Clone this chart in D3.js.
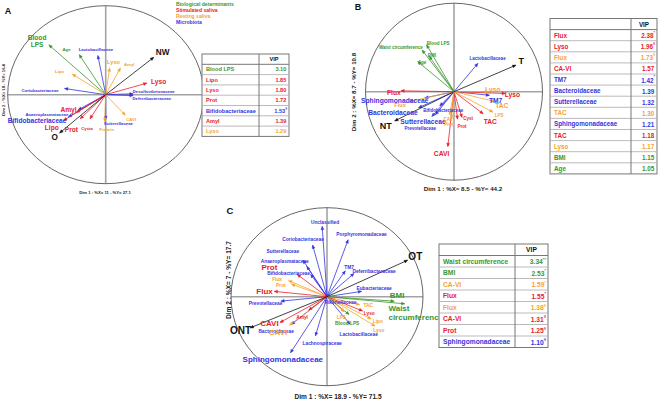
<!DOCTYPE html>
<html><head><meta charset="utf-8">
<script src="https://cdn.jsdelivr.net/npm/d3@7/dist/d3.min.js"></script>
<style>
body{margin:0;background:#fff}
svg{display:block}
text{font-family:"Liberation Sans",Arial,Helvetica,sans-serif;font-weight:bold}
</style>
</head><body>
<svg id="chart" width="660" height="400"></svg>
<script>
// ---------------- DATA ----------------
// Panel A : correlation circle loadings (Dim1, Dim2) and label anchors (in loading units)
const A_names  = ["Blood\nLPS","Age","Lactobacillaceae","Coriobacteriaceae","Desulfovibrionaceae","Deferribacteraceae","Sutterellaceae","Anaeroplasmataceae","Bifidobacteriaceae","Lyso","Amyl","Lipo","Prot","Cysta","Lyso","Amyl","Lipo","CAVI","Protein","NW","O"];
const A_groups = ["bio","bio","micro","micro","micro","micro","micro","micro","micro","stim","stim","stim","stim","stim","rest","rest","rest","rest","rest","pole","pole"];
const A_x      = [-0.58,-0.27,-0.08,-0.42,0.28,0.28,0.00,-0.28,-0.38,0.42,-0.30,-0.43,-0.26,-0.16,0.04,0.15,-0.34,0.20,-0.01,0.49,-0.47];
const A_y      = [0.56,0.45,0.44,0.07,0.01,-0.01,-0.28,-0.17,-0.25,0.13,-0.20,-0.29,-0.27,-0.27,0.30,0.30,0.23,-0.23,-0.30,0.42,-0.43];
const A_labX   = [-0.70,-0.40,-0.10,-0.67,0.49,0.47,0.13,-0.60,-0.70,0.54,-0.38,-0.55,-0.35,-0.19,0.08,0.24,-0.47,0.26,0.01,0.58,-0.52];
const A_labY   = [0.61,0.51,0.51,0.05,0.045,-0.04,-0.32,-0.22,-0.28,0.15,-0.16,-0.36,-0.39,-0.37,0.37,0.35,0.27,-0.27,-0.38,0.48,-0.47];
const A_tier   = [2,0,0,0,0,0,0,0,2,2,2,2,2,0,1,0,0,0,0,3,3];
const A_vipNames  = ["Blood LPS","Lipo","Lyso","Prot","Bifidobacteriaceae","Amyl","Lyso"];
const A_vipGroups = ["bio","stim","stim","stim","micro","stim","rest"];
const A_vipValues = [3.10,1.85,1.80,1.72,1.53,1.39,1.29];
const A_vipMarks  = ["","","","","§","",""];
const A_axisX = "Dim 1 : %X= 11 - %Y= 27.1";
const A_axisY = "Dim 2 : %X= 10 - %Y= 16.4";

// Panel B
const B_names  = ["Waist circumference","Blood LPS","BMI","Age","Lactobacillaceae","Sphingomonadaceae","Bacteroidaceae","Sutterellaceae","Prevotellaceae","Bifidobacteriaceae","TM7","Flux","Lyso","TAC","Cyst","Prot","CAVI","Lyso","TAC","LPS","Flux","CAVI","Prot","T","NT"];
const B_groups = ["bio","bio","bio","bio","micro","micro","micro","micro","micro","micro","micro","stim","stim","stim","stim","stim","stim","rest","rest","rest","rest","rest","rest","pole","pole"];
const B_x      = [-0.36,-0.31,-0.28,-0.41,0.27,-0.33,-0.40,-0.21,-0.25,-0.16,0.40,-0.60,0.58,0.33,0.09,0.04,-0.07,0.39,0.46,0.44,-0.50,-0.05,-0.03,0.70,-0.67];
const B_y      = [0.47,0.53,0.40,0.34,0.32,-0.07,-0.18,-0.26,-0.28,-0.16,-0.04,0.01,-0.02,-0.25,-0.29,-0.31,-0.62,0.00,-0.11,-0.23,-0.11,-0.26,-0.30,0.30,-0.33];
const B_labX   = [-0.60,-0.18,-0.25,-0.36,0.38,-0.67,-0.69,-0.35,-0.38,-0.12,0.47,-0.68,0.66,0.41,0.16,0.09,-0.14,0.44,0.54,0.51,-0.61,-0.06,-0.06,0.76,-0.77];
const B_labY   = [0.51,0.55,0.41,0.34,0.38,-0.09,-0.23,-0.33,-0.41,-0.21,-0.09,0.00,-0.03,-0.33,-0.30,-0.39,-0.69,0.03,-0.15,-0.26,-0.15,-0.31,-0.36,0.35,-0.39];
const B_tier   = [0,0,0,0,0,2,2,2,0,0,2,2,2,2,0,0,2,2,2,0,1,0,0,3,3];
const B_vipNames  = ["Flux","Lyso","Flux","CA-VI","TM7","Bacteroidaceae","Sutterellaceae","TAC","Sphingomonadaceae","TAC","Lyso","BMI","Age"];
const B_vipGroups = ["stim","stim","rest","stim","micro","micro","micro","rest","micro","stim","rest","bio","bio"];
const B_vipValues = [2.38,1.96,1.73,1.57,1.42,1.39,1.32,1.30,1.21,1.18,1.17,1.15,1.05];
const B_vipMarks  = ["*","§","§","","*","","","","","","","",""];
const B_axisX = "Dim 1 : %X= 8.5 - %Y= 44.2";
const B_axisY = "Dim 2 : %X= 8.7 - %Y= 10.8";

// Panel C
const C_names  = ["Unclassified","Coriobacteriaceae","Porphyromonadaceae","Sutterellaceae","Anaeroplasmataceae","Bifidobacteriaceae","TM7","Deferribacteraceae","Eubacteriaceae","Prevotellaceae","Rikenellaceae","Lactobacillaceae","Bacteroidaceae","Lachnospiraceae","Sphingomonadaceae","BMI","Waist\ncircumference","Blood LPS","LPS","TAC","Lipo","Lyso","Flux","Prot","CAVI","Prot","Flux","CAVI","Amyl","Lyso","OT","ONT"];
const C_groups = ["micro","micro","micro","micro","micro","micro","micro","micro","micro","micro","micro","micro","micro","micro","micro","bio","bio","bio","rest","rest","rest","rest","rest","rest","rest","stim","stim","stim","stim","stim","pole","pole"];
const C_x      = [-0.05,-0.15,0.22,-0.25,-0.21,-0.17,0.19,0.28,0.36,-0.48,0.07,0.24,-0.37,-0.12,-0.38,0.70,0.81,0.23,0.18,0.34,0.46,0.50,-0.40,-0.37,-0.39,-0.31,-0.55,-0.49,-0.19,0.37,0.84,-0.80];
const C_y      = [0.79,0.58,0.64,0.41,0.34,0.25,0.29,0.26,0.06,-0.05,-0.05,-0.31,-0.31,-0.44,-0.63,-0.05,-0.08,-0.20,-0.17,-0.09,-0.25,-0.33,0.18,0.14,-0.32,0.25,0.06,-0.29,-0.15,-0.16,0.41,-0.35];
const C_labX   = [-0.02,-0.25,0.36,-0.46,-0.44,-0.40,0.23,0.49,0.49,-0.64,0.14,0.33,-0.53,-0.05,-0.46,0.73,0.64,0.21,0.15,0.43,0.53,0.54,-0.52,-0.48,-0.51,-0.60,-0.65,-0.60,-0.26,0.44,0.92,-0.90];
const C_labY   = [0.84,0.65,0.71,0.51,0.40,0.27,0.33,0.29,0.10,-0.07,-0.06,-0.42,-0.39,-0.52,-0.70,0.02,-0.18,-0.29,-0.23,-0.09,-0.27,-0.37,0.20,0.13,-0.40,0.33,0.06,-0.29,-0.23,-0.18,0.46,-0.37];
const C_tier   = [0,0,0,0,0,0,0,0,0,0,0,0,0,0,2,2,2,0,0,0,0,0,0,0,2,2,2,2,0,0,3,3];
const C_vipNames  = ["Waist circumference","BMI","CA-VI","Flux","Flux","CA-VI","Prot","Sphingomonadaceae"];
const C_vipGroups = ["bio","bio","rest","stim","rest","stim","stim","micro"];
const C_vipValues = [3.34,2.53,1.59,1.55,1.38,1.31,1.25,1.10];
const C_vipMarks  = ["**","*","*","*","§","§","§","§"];
const C_axisX = "Dim 1 : %X= 18.9 - %Y= 71.5";
const C_axisY = "Dim 2 : %X= 7 - %Y= 17.7";

const legendLabels = ["Biological determinants","Stimulated saliva","Resting saliva","Microbiota"];
const legendGroups = ["bio","stim","rest","micro"];

// ---------------- STYLE ----------------
const color = {bio:"#3a962c", stim:"#e8202a", rest:"#f6a32e", micro:"#3434e0", pole:"#111111"};
const svg = d3.select("#chart");
const defs = svg.append("defs");
Object.entries(color).forEach(([k,c]) => {
  defs.append("marker").attr("id","arr-"+k)
    .attr("viewBox","-5 -3 6 6").attr("refX",0).attr("refY",0)
    .attr("markerUnits","userSpaceOnUse").attr("markerWidth",5).attr("markerHeight",5)
    .attr("orient","auto")
    .append("path").attr("d","M-4,-1.8L0,0L-4,1.8Z").attr("fill",c)
    .attr("stroke",c).attr("stroke-width",0.4);
});

function panel(p) {
  const g = svg.append("g");
  const x = d3.scaleLinear().domain([-1,1]).range([p.cx-p.rx, p.cx+p.rx]);
  const y = d3.scaleLinear().domain([-1,1]).range([p.cy+p.ry, p.cy-p.ry]);
  // axes
  g.append("line").attr("x1",x(-1)).attr("x2",x(1)).attr("y1",y(0)).attr("y2",y(0))
    .attr("stroke","#a3a3a3").attr("stroke-width",1.6);
  g.append("line").attr("x1",x(0)).attr("x2",x(0)).attr("y1",y(1)).attr("y2",y(-1))
    .attr("stroke","#a3a3a3").attr("stroke-width",1.6);
  g.append("ellipse").attr("cx",x(0)).attr("cy",y(0)).attr("rx",p.rx).attr("ry",p.ry)
    .attr("fill","none").attr("stroke","#555").attr("stroke-width",0.9);
  const idx = d3.range(p.names.length);
  // arrows
  g.selectAll("line.v").data(idx).join("line").attr("class","v")
    .attr("x1",x(0)).attr("y1",y(0))
    .attr("x2",i=>x(p.xs[i])).attr("y2",i=>y(p.ys[i]))
    .attr("stroke",i=>color[p.groups[i]]).attr("stroke-width",0.8)
    .attr("marker-end",i=>"url(#arr-"+p.groups[i]+")");
  // labels
  idx.forEach(i => {
    const lines = p.names[i].split("\n");
    const fs = p.sizes[p.tiers[i]];
    const lh = fs*1.12;
    const start = p.startAnchor.includes(p.names[i]);
    const t = g.append("text")
      .attr("x",x(p.lx[i])).attr("y",y(p.ly[i]))
      .attr("text-anchor", start ? "start" : "middle")
      .attr("dominant-baseline","central")
      .attr("font-size",fs).attr("fill",color[p.groups[i]]);
    lines.forEach((ln,j) => {
      t.append("tspan").attr("x",x(p.lx[i]))
        .attr("dy", j===0 ? -(lines.length-1)/2*lh : lh).text(ln);
    });
  });
  // panel letter, axis titles
  g.append("text").attr("x",p.letter[0]).attr("y",p.letter[1]).attr("font-size",p.letterSize)
    .attr("dominant-baseline","central").attr("text-anchor","middle").attr("fill","#111").text(p.letterText);
  g.append("text").attr("x",p.axX[0]).attr("y",p.axX[1]).attr("font-size",p.axSize)
    .attr("dominant-baseline","central").attr("text-anchor","middle").attr("fill","#222").text(p.axisX);
  g.append("text").attr("transform",`translate(${p.axY[0]},${p.axY[1]}) rotate(-90)`).attr("font-size",p.axSize)
    .attr("dominant-baseline","central").attr("text-anchor","middle").attr("fill","#222").text(p.axisY);
  // VIP table
  const t = p.table;
  const n = p.vipNames.length;
  const rows = d3.scaleBand().domain(d3.range(n+1)).range([t.top, t.top + t.rowH*(n+1)]);
  const tg = svg.append("g");
  tg.append("rect").attr("x",t.x0).attr("y",t.top).attr("width",t.x2-t.x0).attr("height",t.rowH*(n+1))
    .attr("fill","#fff").attr("stroke","#777").attr("stroke-width",1);
  tg.selectAll("line.r").data(d3.range(1,n+1)).join("line").attr("class","r")
    .attr("x1",t.x0).attr("x2",t.x2).attr("y1",d=>rows(d)).attr("y2",d=>rows(d))
    .attr("stroke",d=>d===1?"#777":"#aaa").attr("stroke-width",d=>d===1?1:0.8);
  tg.append("line").attr("x1",t.x1).attr("x2",t.x1).attr("y1",t.top).attr("y2",t.top+t.rowH*(n+1))
    .attr("stroke","#777").attr("stroke-width",1);
  tg.append("text").attr("x",(t.x1+t.x2)/2).attr("y",rows(0)+rows.bandwidth()/2)
    .attr("dominant-baseline","central").attr("text-anchor","middle").attr("font-size",t.fs).attr("fill","#111").text("VIP");
  d3.range(n).forEach(i => {
    const cy = rows(i+1)+rows.bandwidth()/2;
    const c = color[p.vipGroups[i]];
    tg.append("text").attr("x",t.x0+4).attr("y",cy).attr("dominant-baseline","central")
      .attr("font-size",t.fs).attr("fill",c).text(p.vipNames[i]);
    const v = tg.append("text").attr("x",t.x2-2).attr("y",cy).attr("dominant-baseline","central")
      .attr("text-anchor","end").attr("font-size",t.fs).attr("fill",c);
    v.append("tspan").text(d3.format(".2f")(p.vipValues[i]));
    if (p.vipMarks[i]) v.append("tspan").attr("font-size",t.fs*0.6).attr("dy",-t.fs*0.35).text(p.vipMarks[i]);
    else v.append("tspan").attr("font-size",t.fs*0.6).text("\u2009");
  });
}

panel({names:A_names,groups:A_groups,xs:A_x,ys:A_y,lx:A_labX,ly:A_labY,tiers:A_tier,
  sizes:[4.3,5.6,6.6,8.2], startAnchor:[], cx:105.7, cy:94.7, rx:98, ry:89,
  letter:[8,11], letterText:"A", letterSize:9, axX:[105,192.5], axY:[3.5,90], axSize:4.2,
  axisX:A_axisX, axisY:A_axisY,
  vipNames:A_vipNames, vipGroups:A_vipGroups, vipValues:A_vipValues, vipMarks:A_vipMarks,
  table:{x0:202,x1:259,x2:289,top:54,rowH:10.3,fs:5.6}});

panel({names:B_names,groups:B_groups,xs:B_x,ys:B_y,lx:B_labX,ly:B_labY,tiers:B_tier,
  sizes:[4.5,5.6,6.7,9], startAnchor:[], cx:454, cy:91.7, rx:88.5, ry:88.5,
  letter:[358,6.5], letterText:"B", letterSize:9, axX:[463,188], axY:[353,92], axSize:6.2,
  axisX:B_axisX, axisY:B_axisY,
  vipNames:B_vipNames, vipGroups:B_vipGroups, vipValues:B_vipValues, vipMarks:B_vipMarks,
  table:{x0:550,x1:631,x2:657,top:18.5,rowH:11.1,fs:6.3}});

panel({names:C_names,groups:C_groups,xs:C_x,ys:C_y,lx:C_labX,ly:C_labY,tiers:C_tier,
  sizes:[4.8,6,8,10], startAnchor:["Waist\ncircumference"], cx:327, cy:296.7, rx:96, ry:89,
  letter:[230,210], letterText:"C", letterSize:9.5, axX:[338,396.5], axY:[228,280], axSize:6.6,
  axisX:C_axisX, axisY:C_axisY,
  vipNames:C_vipNames, vipGroups:C_vipGroups, vipValues:C_vipValues, vipMarks:C_vipMarks,
  table:{x0:439,x1:515,x2:548,top:244,rowH:11.5,fs:6.7}});

// legend (panel A)
const lg = svg.append("g");
lg.selectAll("text").data(d3.range(legendLabels.length)).join("text")
  .attr("x",176).attr("y",i=>4+i*6).attr("dominant-baseline","central")
  .attr("font-size",5.1).attr("fill",i=>color[legendGroups[i]]).text(i=>legendLabels[i]);
</script>
</body></html>
